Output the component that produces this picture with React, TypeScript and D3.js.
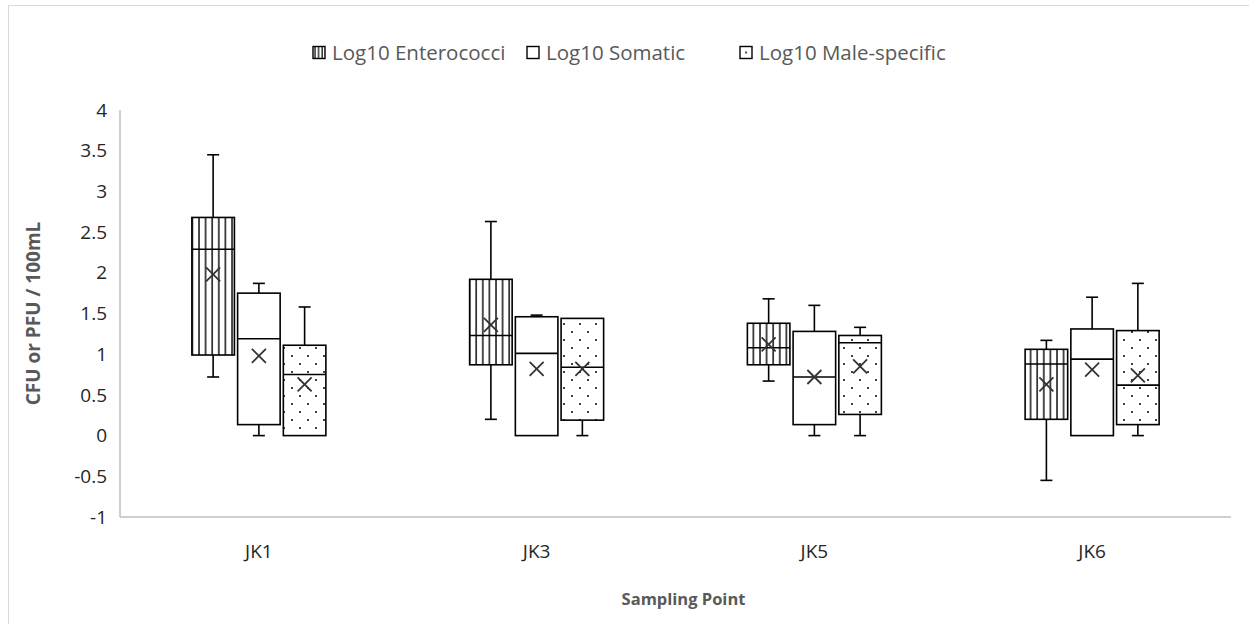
import React from 'react';
import * as d3 from 'd3';

// ==================== DATA ====================
const categories = ['JK1', 'JK3', 'JK5', 'JK6'];
const seriesNames = ['Log10 Enterococci', 'Log10 Somatic', 'Log10 Male-specific'];
const yTicks = [-1, -0.5, 0, 0.5, 1, 1.5, 2, 2.5, 3, 3.5, 4];

// per category: [min, q1, median, q3, max, mean]
const enterococci = [
  [0.72, 0.99, 2.29, 2.68, 3.45, 1.98],
  [0.2, 0.87, 1.23, 1.92, 2.63, 1.36],
  [0.67, 0.87, 1.08, 1.38, 1.68, 1.12],
  [-0.55, 0.2, 0.88, 1.06, 1.17, 0.63],
];
const somatic = [
  [0, 0.135, 1.19, 1.75, 1.87, 0.98],
  [0, 0, 1.01, 1.46, 1.48, 0.82],
  [0, 0.135, 0.72, 1.28, 1.6, 0.72],
  [0, 0, 0.94, 1.31, 1.7, 0.81],
];
const maleSpecific = [
  [0, 0, 0.75, 1.11, 1.58, 0.63],
  [0, 0.19, 0.84, 1.44, 1.44, 0.82],
  [0, 0.26, 1.14, 1.23, 1.33, 0.85],
  [0, 0.135, 0.62, 1.29, 1.87, 0.74],
];

const seriesStats = [enterococci, somatic, maleSpecific];
const seriesFill = ['url(#stripes)', '#ffffff', 'url(#dots)'];
const legendFill = ['url(#stripesSmall)', '#ffffff', 'url(#dotSmall)'];

// ==================== LAYOUT ====================
const W = 1249;
const H = 624;
const FONT = "'Open Sans', sans-serif";

const x = d3.scaleBand<string>().domain(categories).range([120, 1231]).padding(0);
const xSub = d3.scaleBand<string>().domain(seriesNames).range([0, 134]).paddingInner(0.07);
const y = d3.scaleLinear().domain([-1, 4]).range([517, 110]);

const Box = ({ cx, s, fill }: { cx: number; s: number[]; fill: string }) => {
  const [mn, q1, med, q3, mx, mean] = s;
  const bw = xSub.bandwidth();
  const left = cx - bw / 2;
  const cap = 6;
  const m = 7;
  return (
    <g stroke="#000" strokeWidth={1.6} fill="none">
      <line x1={cx} x2={cx} y1={y(mx)} y2={y(q3)} />
      <line x1={cx} x2={cx} y1={y(q1)} y2={y(mn)} />
      {mx > q3 && <line x1={cx - cap} x2={cx + cap} y1={y(mx)} y2={y(mx)} />}
      {mn < q1 && <line x1={cx - cap} x2={cx + cap} y1={y(mn)} y2={y(mn)} />}
      <rect x={left} y={y(q3)} width={bw} height={y(q1) - y(q3)} fill={fill} />
      <line x1={left} x2={left + bw} y1={y(med)} y2={y(med)} />
      <g stroke="#333" strokeWidth={1.8}>
        <line x1={cx - m} x2={cx + m} y1={y(mean) - m} y2={y(mean) + m} />
        <line x1={cx - m} x2={cx + m} y1={y(mean) + m} y2={y(mean) - m} />
      </g>
    </g>
  );
};

export default function App() {
  const x0 = x.range()[0];
  const x1 = x.range()[1];
  const legendX = [313, 527, 740];
  return (
    <svg width={W} height={H} style={{ position: 'absolute', left: 0, top: 0, background: '#fff' }}>
      <defs>
        <pattern id="stripes" patternUnits="userSpaceOnUse" width={6.6} height={10}>
          <line x1={1} x2={1} y1={0} y2={10} stroke="#000" strokeWidth={1.4} />
        </pattern>
        <pattern id="stripesSmall" patternUnits="userSpaceOnUse" width={3.6} height={10} x={314}>
          <line x1={1} x2={1} y1={0} y2={10} stroke="#000" strokeWidth={1.2} />
        </pattern>
        <pattern id="dots" patternUnits="userSpaceOnUse" width={16} height={16}>
          <rect width={16} height={16} fill="#fff" />
          <circle cx={4} cy={4} r={1} fill="#000" />
          <circle cx={12} cy={12} r={1} fill="#000" />
        </pattern>
        <pattern id="dotSmall" patternUnits="objectBoundingBox" width={1} height={1}>
          <rect width={12} height={12} fill="#fff" />
          <circle cx={6} cy={6} r={0.9} fill="#000" />
        </pattern>
      </defs>

      <rect x={8.5} y={5.5} width={W + 10} height={H + 10} fill="none" stroke="#d9d9d9" />

      {/* legend */}
      {seriesNames.map((name, i) => (
        <g key={name}>
          <rect x={legendX[i]} y={46.5} width={12} height={12} fill={legendFill[i]} stroke="#000" strokeWidth={1.4} />
          <text x={legendX[i] + 19} y={53} dy="0.35em" fontFamily={FONT} fontSize={20.5} fill="#595959">
            {name}
          </text>
        </g>
      ))}

      {/* axes */}
      <line x1={x0} x2={x0} y1={y(4)} y2={y(-1)} stroke="#bfbfbf" strokeWidth={1.5} />
      <line x1={x0} x2={x1} y1={y(-1)} y2={y(-1)} stroke="#bfbfbf" strokeWidth={1.5} />
      {yTicks.map((t) => (
        <text key={t} x={107} y={y(t)} dy="0.35em" textAnchor="end" fontFamily={FONT} fontSize={19} fill="#262626">
          {t}
        </text>
      ))}
      {categories.map((c) => (
        <text key={c} x={(x(c) as number) + x.bandwidth() / 2} y={551} dy="0.35em" textAnchor="middle" fontFamily={FONT} fontSize={19} fill="#262626">
          {c}
        </text>
      ))}
      <text transform={`translate(33, ${y(1.5)}) rotate(-90)`} textAnchor="middle" dy="0.35em" fontFamily={FONT} fontSize={19} fontWeight="bold" fill="#595959">
        CFU or PFU / 100mL
      </text>
      <text x={(x0 + x1) / 2 + 8} y={599} dy="0.35em" textAnchor="middle" fontFamily={FONT} fontSize={16.5} fontWeight="bold" fill="#595959">
        Sampling Point
      </text>

      {/* boxes */}
      {categories.map((c, ci) => {
        const gx = (x(c) as number) + x.bandwidth() / 2 - 67;
        return (
          <g key={c}>
            {seriesNames.map((s, si) => (
              <Box key={s} cx={gx + (xSub(s) as number) + xSub.bandwidth() / 2} s={seriesStats[si][ci]} fill={seriesFill[si]} />
            ))}
          </g>
        );
      })}
    </svg>
  );
}
